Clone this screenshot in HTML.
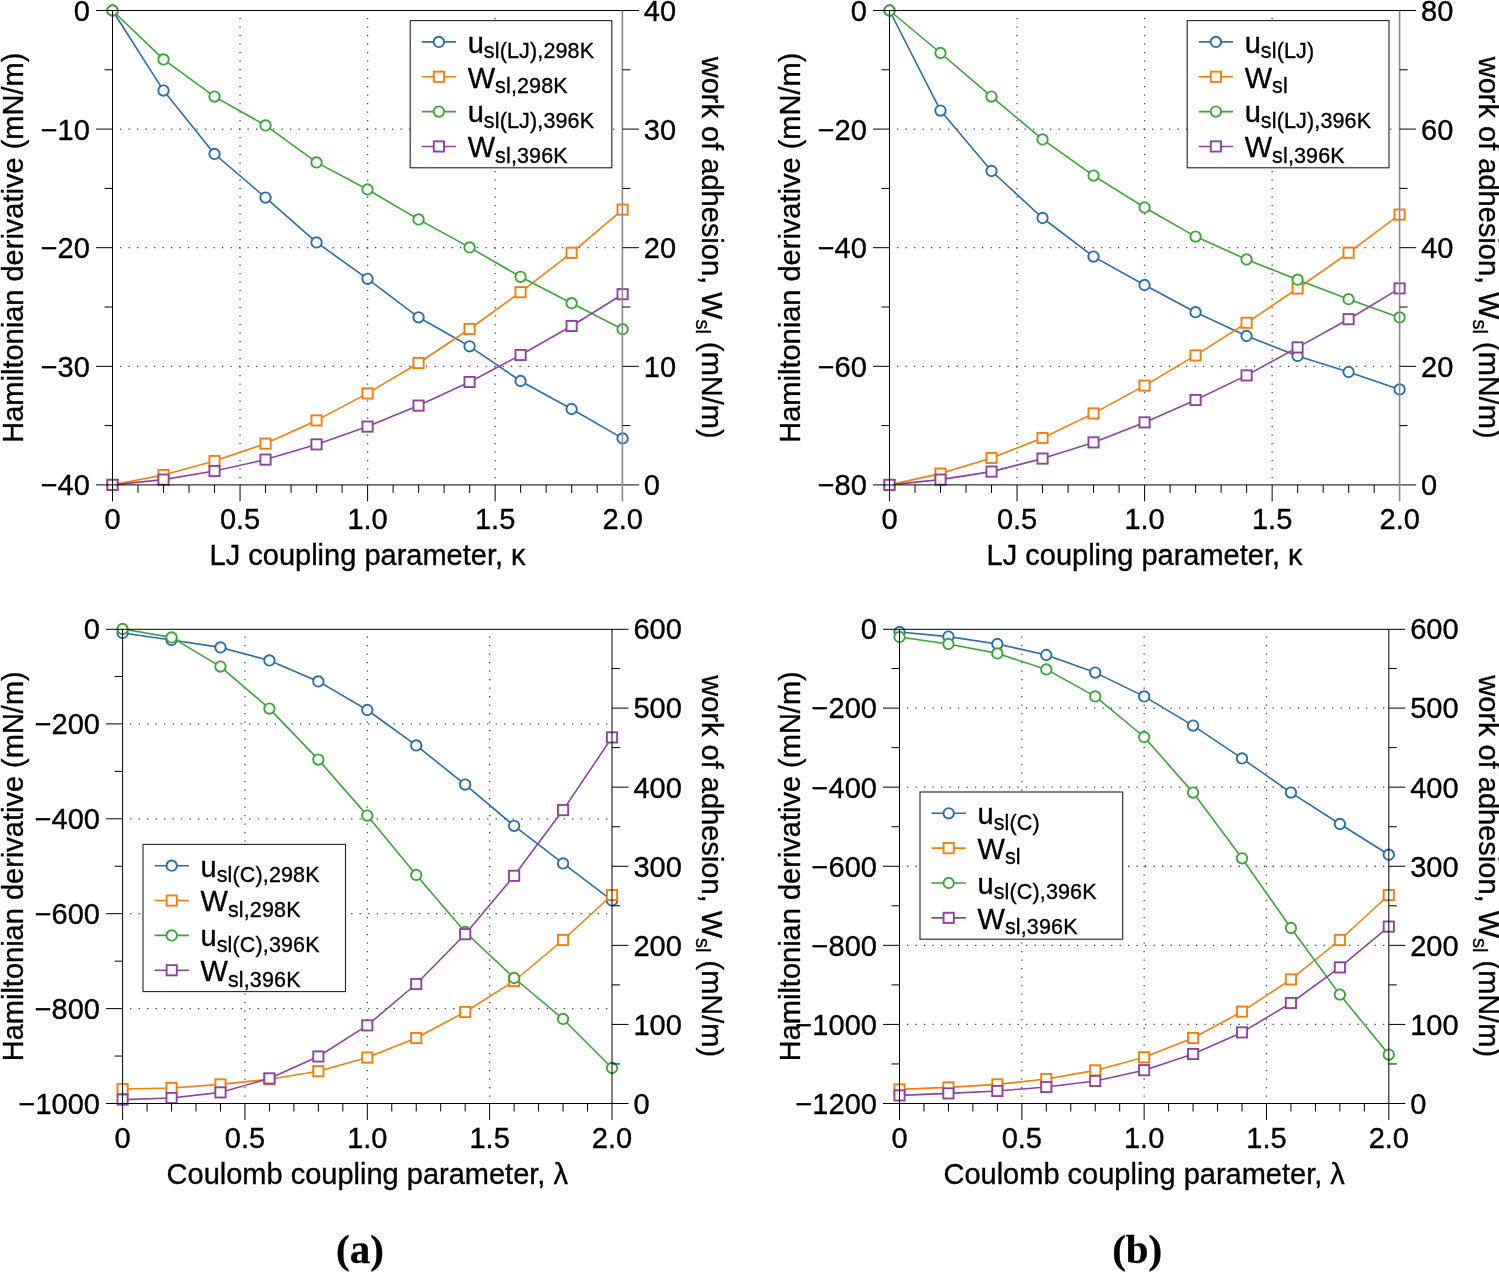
<!DOCTYPE html>
<html><head><meta charset="utf-8"><title>Hamiltonian derivative and work of adhesion</title>
<style>
html,body{margin:0;padding:0;background:#fff;}
body{width:1499px;height:1272px;overflow:hidden;}
svg{display:block;font-family:"Liberation Sans", sans-serif;will-change:transform;}
text{stroke:#000;stroke-width:0.35px;}
</style></head><body>
<svg width="1499" height="1272" viewBox="0 0 1499 1272" fill="#000">
<g stroke="#444" stroke-width="1.3" stroke-dasharray="1.3 7.2">
<line x1="240.05" y1="18" x2="240.05" y2="481.9"/>
<line x1="367.6" y1="18" x2="367.6" y2="481.9"/>
<line x1="495.15" y1="18" x2="495.15" y2="481.9"/>
<line x1="120" y1="129.1" x2="619.7" y2="129.1"/>
<line x1="120" y1="247.7" x2="619.7" y2="247.7"/>
<line x1="120" y1="366.3" x2="619.7" y2="366.3"/>
<line x1="1017.05" y1="18" x2="1017.05" y2="481.9"/>
<line x1="1144.6" y1="18" x2="1144.6" y2="481.9"/>
<line x1="1272.15" y1="18" x2="1272.15" y2="481.9"/>
<line x1="897" y1="129.1" x2="1396.7" y2="129.1"/>
<line x1="897" y1="247.7" x2="1396.7" y2="247.7"/>
<line x1="897" y1="366.3" x2="1396.7" y2="366.3"/>
<line x1="244.95" y1="636.5" x2="244.95" y2="1100.5"/>
<line x1="367.3" y1="636.5" x2="367.3" y2="1100.5"/>
<line x1="489.65" y1="636.5" x2="489.65" y2="1100.5"/>
<line x1="130.1" y1="723.9" x2="609" y2="723.9"/>
<line x1="130.1" y1="818.8" x2="609" y2="818.8"/>
<line x1="130.1" y1="913.7" x2="609" y2="913.7"/>
<line x1="130.1" y1="1008.6" x2="609" y2="1008.6"/>
<line x1="1021.83" y1="636.5" x2="1021.83" y2="1100.5"/>
<line x1="1144.15" y1="636.5" x2="1144.15" y2="1100.5"/>
<line x1="1266.47" y1="636.5" x2="1266.47" y2="1100.5"/>
<line x1="907" y1="708.08" x2="1385.8" y2="708.08"/>
<line x1="907" y1="787.17" x2="1385.8" y2="787.17"/>
<line x1="907" y1="866.25" x2="1385.8" y2="866.25"/>
<line x1="907" y1="945.33" x2="1385.8" y2="945.33"/>
<line x1="907" y1="1024.42" x2="1385.8" y2="1024.42"/>
</g>
<g>
<polyline points="112.5,10.5 163.51,90.6 214.52,154 265.53,197.6 316.54,242.4 367.55,278.8 418.56,317.3 469.57,346.3 520.58,381 571.59,409 622.6,438.4" fill="none" stroke="#2b6cab" stroke-width="1.6" stroke-linejoin="round"/>
<circle cx="112.5" cy="10.5" r="5.2" fill="#fff" stroke="#2b6cab" stroke-width="1.9"/>
<circle cx="163.51" cy="90.6" r="5.2" fill="#fff" stroke="#2b6cab" stroke-width="1.9"/>
<circle cx="214.52" cy="154" r="5.2" fill="#fff" stroke="#2b6cab" stroke-width="1.9"/>
<circle cx="265.53" cy="197.6" r="5.2" fill="#fff" stroke="#2b6cab" stroke-width="1.9"/>
<circle cx="316.54" cy="242.4" r="5.2" fill="#fff" stroke="#2b6cab" stroke-width="1.9"/>
<circle cx="367.55" cy="278.8" r="5.2" fill="#fff" stroke="#2b6cab" stroke-width="1.9"/>
<circle cx="418.56" cy="317.3" r="5.2" fill="#fff" stroke="#2b6cab" stroke-width="1.9"/>
<circle cx="469.57" cy="346.3" r="5.2" fill="#fff" stroke="#2b6cab" stroke-width="1.9"/>
<circle cx="520.58" cy="381" r="5.2" fill="#fff" stroke="#2b6cab" stroke-width="1.9"/>
<circle cx="571.59" cy="409" r="5.2" fill="#fff" stroke="#2b6cab" stroke-width="1.9"/>
<circle cx="622.6" cy="438.4" r="5.2" fill="#fff" stroke="#2b6cab" stroke-width="1.9"/>
<polyline points="112.5,484.9 163.51,475 214.52,461 265.53,443.6 316.54,420.4 367.55,393.4 418.56,363 469.57,329 520.58,292.2 571.59,252.8 622.6,209.6" fill="none" stroke="#f77d0b" stroke-width="1.6" stroke-linejoin="round"/>
<rect x="107.4" y="479.8" width="10.2" height="10.2" fill="#fff" stroke="#f77d0b" stroke-width="1.9"/>
<rect x="158.41" y="469.9" width="10.2" height="10.2" fill="#fff" stroke="#f77d0b" stroke-width="1.9"/>
<rect x="209.42" y="455.9" width="10.2" height="10.2" fill="#fff" stroke="#f77d0b" stroke-width="1.9"/>
<rect x="260.43" y="438.5" width="10.2" height="10.2" fill="#fff" stroke="#f77d0b" stroke-width="1.9"/>
<rect x="311.44" y="415.3" width="10.2" height="10.2" fill="#fff" stroke="#f77d0b" stroke-width="1.9"/>
<rect x="362.45" y="388.3" width="10.2" height="10.2" fill="#fff" stroke="#f77d0b" stroke-width="1.9"/>
<rect x="413.46" y="357.9" width="10.2" height="10.2" fill="#fff" stroke="#f77d0b" stroke-width="1.9"/>
<rect x="464.47" y="323.9" width="10.2" height="10.2" fill="#fff" stroke="#f77d0b" stroke-width="1.9"/>
<rect x="515.48" y="287.1" width="10.2" height="10.2" fill="#fff" stroke="#f77d0b" stroke-width="1.9"/>
<rect x="566.49" y="247.7" width="10.2" height="10.2" fill="#fff" stroke="#f77d0b" stroke-width="1.9"/>
<rect x="617.5" y="204.5" width="10.2" height="10.2" fill="#fff" stroke="#f77d0b" stroke-width="1.9"/>
<polyline points="112.5,10.5 163.51,59.4 214.52,96.6 265.53,125.4 316.54,162.4 367.55,189.5 418.56,219.4 469.57,247.4 520.58,276.8 571.59,303.2 622.6,329.2" fill="none" stroke="#3ea33a" stroke-width="1.6" stroke-linejoin="round"/>
<circle cx="112.5" cy="10.5" r="5.2" fill="#fff" stroke="#3ea33a" stroke-width="1.9"/>
<circle cx="163.51" cy="59.4" r="5.2" fill="#fff" stroke="#3ea33a" stroke-width="1.9"/>
<circle cx="214.52" cy="96.6" r="5.2" fill="#fff" stroke="#3ea33a" stroke-width="1.9"/>
<circle cx="265.53" cy="125.4" r="5.2" fill="#fff" stroke="#3ea33a" stroke-width="1.9"/>
<circle cx="316.54" cy="162.4" r="5.2" fill="#fff" stroke="#3ea33a" stroke-width="1.9"/>
<circle cx="367.55" cy="189.5" r="5.2" fill="#fff" stroke="#3ea33a" stroke-width="1.9"/>
<circle cx="418.56" cy="219.4" r="5.2" fill="#fff" stroke="#3ea33a" stroke-width="1.9"/>
<circle cx="469.57" cy="247.4" r="5.2" fill="#fff" stroke="#3ea33a" stroke-width="1.9"/>
<circle cx="520.58" cy="276.8" r="5.2" fill="#fff" stroke="#3ea33a" stroke-width="1.9"/>
<circle cx="571.59" cy="303.2" r="5.2" fill="#fff" stroke="#3ea33a" stroke-width="1.9"/>
<circle cx="622.6" cy="329.2" r="5.2" fill="#fff" stroke="#3ea33a" stroke-width="1.9"/>
<polyline points="112.5,484.9 163.51,479.6 214.52,471 265.53,459.6 316.54,444.4 367.55,426.6 418.56,405.6 469.57,382 520.58,355 571.59,326 622.6,294.2" fill="none" stroke="#8c449e" stroke-width="1.6" stroke-linejoin="round"/>
<rect x="107.4" y="479.8" width="10.2" height="10.2" fill="#fff" stroke="#8c449e" stroke-width="1.9"/>
<rect x="158.41" y="474.5" width="10.2" height="10.2" fill="#fff" stroke="#8c449e" stroke-width="1.9"/>
<rect x="209.42" y="465.9" width="10.2" height="10.2" fill="#fff" stroke="#8c449e" stroke-width="1.9"/>
<rect x="260.43" y="454.5" width="10.2" height="10.2" fill="#fff" stroke="#8c449e" stroke-width="1.9"/>
<rect x="311.44" y="439.3" width="10.2" height="10.2" fill="#fff" stroke="#8c449e" stroke-width="1.9"/>
<rect x="362.45" y="421.5" width="10.2" height="10.2" fill="#fff" stroke="#8c449e" stroke-width="1.9"/>
<rect x="413.46" y="400.5" width="10.2" height="10.2" fill="#fff" stroke="#8c449e" stroke-width="1.9"/>
<rect x="464.47" y="376.9" width="10.2" height="10.2" fill="#fff" stroke="#8c449e" stroke-width="1.9"/>
<rect x="515.48" y="349.9" width="10.2" height="10.2" fill="#fff" stroke="#8c449e" stroke-width="1.9"/>
<rect x="566.49" y="320.9" width="10.2" height="10.2" fill="#fff" stroke="#8c449e" stroke-width="1.9"/>
<rect x="617.5" y="289.1" width="10.2" height="10.2" fill="#fff" stroke="#8c449e" stroke-width="1.9"/>
<polyline points="889.5,10.5 940.51,110.6 991.52,171 1042.53,218 1093.54,256.6 1144.55,285 1195.56,312.2 1246.57,336 1297.58,356 1348.59,372 1399.6,389.4" fill="none" stroke="#2b6cab" stroke-width="1.6" stroke-linejoin="round"/>
<circle cx="889.5" cy="10.5" r="5.2" fill="#fff" stroke="#2b6cab" stroke-width="1.9"/>
<circle cx="940.51" cy="110.6" r="5.2" fill="#fff" stroke="#2b6cab" stroke-width="1.9"/>
<circle cx="991.52" cy="171" r="5.2" fill="#fff" stroke="#2b6cab" stroke-width="1.9"/>
<circle cx="1042.53" cy="218" r="5.2" fill="#fff" stroke="#2b6cab" stroke-width="1.9"/>
<circle cx="1093.54" cy="256.6" r="5.2" fill="#fff" stroke="#2b6cab" stroke-width="1.9"/>
<circle cx="1144.55" cy="285" r="5.2" fill="#fff" stroke="#2b6cab" stroke-width="1.9"/>
<circle cx="1195.56" cy="312.2" r="5.2" fill="#fff" stroke="#2b6cab" stroke-width="1.9"/>
<circle cx="1246.57" cy="336" r="5.2" fill="#fff" stroke="#2b6cab" stroke-width="1.9"/>
<circle cx="1297.58" cy="356" r="5.2" fill="#fff" stroke="#2b6cab" stroke-width="1.9"/>
<circle cx="1348.59" cy="372" r="5.2" fill="#fff" stroke="#2b6cab" stroke-width="1.9"/>
<circle cx="1399.6" cy="389.4" r="5.2" fill="#fff" stroke="#2b6cab" stroke-width="1.9"/>
<polyline points="889.5,484.9 940.51,473.6 991.52,458 1042.53,438 1093.54,413.4 1144.55,385.6 1195.56,355.4 1246.57,322.8 1297.58,288.5 1348.59,252.7 1399.6,214.6" fill="none" stroke="#f77d0b" stroke-width="1.6" stroke-linejoin="round"/>
<rect x="884.4" y="479.8" width="10.2" height="10.2" fill="#fff" stroke="#f77d0b" stroke-width="1.9"/>
<rect x="935.41" y="468.5" width="10.2" height="10.2" fill="#fff" stroke="#f77d0b" stroke-width="1.9"/>
<rect x="986.42" y="452.9" width="10.2" height="10.2" fill="#fff" stroke="#f77d0b" stroke-width="1.9"/>
<rect x="1037.43" y="432.9" width="10.2" height="10.2" fill="#fff" stroke="#f77d0b" stroke-width="1.9"/>
<rect x="1088.44" y="408.3" width="10.2" height="10.2" fill="#fff" stroke="#f77d0b" stroke-width="1.9"/>
<rect x="1139.45" y="380.5" width="10.2" height="10.2" fill="#fff" stroke="#f77d0b" stroke-width="1.9"/>
<rect x="1190.46" y="350.3" width="10.2" height="10.2" fill="#fff" stroke="#f77d0b" stroke-width="1.9"/>
<rect x="1241.47" y="317.7" width="10.2" height="10.2" fill="#fff" stroke="#f77d0b" stroke-width="1.9"/>
<rect x="1292.48" y="283.4" width="10.2" height="10.2" fill="#fff" stroke="#f77d0b" stroke-width="1.9"/>
<rect x="1343.49" y="247.6" width="10.2" height="10.2" fill="#fff" stroke="#f77d0b" stroke-width="1.9"/>
<rect x="1394.5" y="209.5" width="10.2" height="10.2" fill="#fff" stroke="#f77d0b" stroke-width="1.9"/>
<polyline points="889.5,10.5 940.51,53 991.52,96.6 1042.53,139.4 1093.54,175.6 1144.55,207.5 1195.56,236.6 1246.57,259.4 1297.58,279.7 1348.59,299.2 1399.6,317.4" fill="none" stroke="#3ea33a" stroke-width="1.6" stroke-linejoin="round"/>
<circle cx="889.5" cy="10.5" r="5.2" fill="#fff" stroke="#3ea33a" stroke-width="1.9"/>
<circle cx="940.51" cy="53" r="5.2" fill="#fff" stroke="#3ea33a" stroke-width="1.9"/>
<circle cx="991.52" cy="96.6" r="5.2" fill="#fff" stroke="#3ea33a" stroke-width="1.9"/>
<circle cx="1042.53" cy="139.4" r="5.2" fill="#fff" stroke="#3ea33a" stroke-width="1.9"/>
<circle cx="1093.54" cy="175.6" r="5.2" fill="#fff" stroke="#3ea33a" stroke-width="1.9"/>
<circle cx="1144.55" cy="207.5" r="5.2" fill="#fff" stroke="#3ea33a" stroke-width="1.9"/>
<circle cx="1195.56" cy="236.6" r="5.2" fill="#fff" stroke="#3ea33a" stroke-width="1.9"/>
<circle cx="1246.57" cy="259.4" r="5.2" fill="#fff" stroke="#3ea33a" stroke-width="1.9"/>
<circle cx="1297.58" cy="279.7" r="5.2" fill="#fff" stroke="#3ea33a" stroke-width="1.9"/>
<circle cx="1348.59" cy="299.2" r="5.2" fill="#fff" stroke="#3ea33a" stroke-width="1.9"/>
<circle cx="1399.6" cy="317.4" r="5.2" fill="#fff" stroke="#3ea33a" stroke-width="1.9"/>
<polyline points="889.5,484.9 940.51,479.6 991.52,471.6 1042.53,458.6 1093.54,442.4 1144.55,422.4 1195.56,400 1246.57,375.4 1297.58,347.4 1348.59,319.2 1399.6,288.4" fill="none" stroke="#8c449e" stroke-width="1.6" stroke-linejoin="round"/>
<rect x="884.4" y="479.8" width="10.2" height="10.2" fill="#fff" stroke="#8c449e" stroke-width="1.9"/>
<rect x="935.41" y="474.5" width="10.2" height="10.2" fill="#fff" stroke="#8c449e" stroke-width="1.9"/>
<rect x="986.42" y="466.5" width="10.2" height="10.2" fill="#fff" stroke="#8c449e" stroke-width="1.9"/>
<rect x="1037.43" y="453.5" width="10.2" height="10.2" fill="#fff" stroke="#8c449e" stroke-width="1.9"/>
<rect x="1088.44" y="437.3" width="10.2" height="10.2" fill="#fff" stroke="#8c449e" stroke-width="1.9"/>
<rect x="1139.45" y="417.3" width="10.2" height="10.2" fill="#fff" stroke="#8c449e" stroke-width="1.9"/>
<rect x="1190.46" y="394.9" width="10.2" height="10.2" fill="#fff" stroke="#8c449e" stroke-width="1.9"/>
<rect x="1241.47" y="370.3" width="10.2" height="10.2" fill="#fff" stroke="#8c449e" stroke-width="1.9"/>
<rect x="1292.48" y="342.3" width="10.2" height="10.2" fill="#fff" stroke="#8c449e" stroke-width="1.9"/>
<rect x="1343.49" y="314.1" width="10.2" height="10.2" fill="#fff" stroke="#8c449e" stroke-width="1.9"/>
<rect x="1394.5" y="283.3" width="10.2" height="10.2" fill="#fff" stroke="#8c449e" stroke-width="1.9"/>
<polyline points="122.6,633 171.54,640 220.48,647.4 269.42,660.4 318.36,681.4 367.3,710 416.24,745.4 465.18,784.6 514.12,825.8 563.06,863.4 612,900.4" fill="none" stroke="#2b6cab" stroke-width="1.6" stroke-linejoin="round"/>
<circle cx="122.6" cy="633" r="5.2" fill="#fff" stroke="#2b6cab" stroke-width="1.9"/>
<circle cx="171.54" cy="640" r="5.2" fill="#fff" stroke="#2b6cab" stroke-width="1.9"/>
<circle cx="220.48" cy="647.4" r="5.2" fill="#fff" stroke="#2b6cab" stroke-width="1.9"/>
<circle cx="269.42" cy="660.4" r="5.2" fill="#fff" stroke="#2b6cab" stroke-width="1.9"/>
<circle cx="318.36" cy="681.4" r="5.2" fill="#fff" stroke="#2b6cab" stroke-width="1.9"/>
<circle cx="367.3" cy="710" r="5.2" fill="#fff" stroke="#2b6cab" stroke-width="1.9"/>
<circle cx="416.24" cy="745.4" r="5.2" fill="#fff" stroke="#2b6cab" stroke-width="1.9"/>
<circle cx="465.18" cy="784.6" r="5.2" fill="#fff" stroke="#2b6cab" stroke-width="1.9"/>
<circle cx="514.12" cy="825.8" r="5.2" fill="#fff" stroke="#2b6cab" stroke-width="1.9"/>
<circle cx="563.06" cy="863.4" r="5.2" fill="#fff" stroke="#2b6cab" stroke-width="1.9"/>
<circle cx="612" cy="900.4" r="5.2" fill="#fff" stroke="#2b6cab" stroke-width="1.9"/>
<polyline points="122.6,1089 171.54,1088 220.48,1084.4 269.42,1079.2 318.36,1071.2 367.3,1057.5 416.24,1038 465.18,1012 514.12,981 563.06,940 612,895" fill="none" stroke="#f77d0b" stroke-width="1.6" stroke-linejoin="round"/>
<rect x="117.5" y="1083.9" width="10.2" height="10.2" fill="#fff" stroke="#f77d0b" stroke-width="1.9"/>
<rect x="166.44" y="1082.9" width="10.2" height="10.2" fill="#fff" stroke="#f77d0b" stroke-width="1.9"/>
<rect x="215.38" y="1079.3" width="10.2" height="10.2" fill="#fff" stroke="#f77d0b" stroke-width="1.9"/>
<rect x="264.32" y="1074.1" width="10.2" height="10.2" fill="#fff" stroke="#f77d0b" stroke-width="1.9"/>
<rect x="313.26" y="1066.1" width="10.2" height="10.2" fill="#fff" stroke="#f77d0b" stroke-width="1.9"/>
<rect x="362.2" y="1052.4" width="10.2" height="10.2" fill="#fff" stroke="#f77d0b" stroke-width="1.9"/>
<rect x="411.14" y="1032.9" width="10.2" height="10.2" fill="#fff" stroke="#f77d0b" stroke-width="1.9"/>
<rect x="460.08" y="1006.9" width="10.2" height="10.2" fill="#fff" stroke="#f77d0b" stroke-width="1.9"/>
<rect x="509.02" y="975.9" width="10.2" height="10.2" fill="#fff" stroke="#f77d0b" stroke-width="1.9"/>
<rect x="557.96" y="934.9" width="10.2" height="10.2" fill="#fff" stroke="#f77d0b" stroke-width="1.9"/>
<rect x="606.9" y="889.9" width="10.2" height="10.2" fill="#fff" stroke="#f77d0b" stroke-width="1.9"/>
<polyline points="122.6,629 171.54,637.4 220.48,666.6 269.42,708.6 318.36,759.6 367.3,815.6 416.24,875 465.18,932 514.12,978 563.06,1019 612,1068" fill="none" stroke="#3ea33a" stroke-width="1.6" stroke-linejoin="round"/>
<circle cx="122.6" cy="629" r="5.2" fill="#fff" stroke="#3ea33a" stroke-width="1.9"/>
<circle cx="171.54" cy="637.4" r="5.2" fill="#fff" stroke="#3ea33a" stroke-width="1.9"/>
<circle cx="220.48" cy="666.6" r="5.2" fill="#fff" stroke="#3ea33a" stroke-width="1.9"/>
<circle cx="269.42" cy="708.6" r="5.2" fill="#fff" stroke="#3ea33a" stroke-width="1.9"/>
<circle cx="318.36" cy="759.6" r="5.2" fill="#fff" stroke="#3ea33a" stroke-width="1.9"/>
<circle cx="367.3" cy="815.6" r="5.2" fill="#fff" stroke="#3ea33a" stroke-width="1.9"/>
<circle cx="416.24" cy="875" r="5.2" fill="#fff" stroke="#3ea33a" stroke-width="1.9"/>
<circle cx="465.18" cy="932" r="5.2" fill="#fff" stroke="#3ea33a" stroke-width="1.9"/>
<circle cx="514.12" cy="978" r="5.2" fill="#fff" stroke="#3ea33a" stroke-width="1.9"/>
<circle cx="563.06" cy="1019" r="5.2" fill="#fff" stroke="#3ea33a" stroke-width="1.9"/>
<circle cx="612" cy="1068" r="5.2" fill="#fff" stroke="#3ea33a" stroke-width="1.9"/>
<polyline points="122.6,1099.6 171.54,1098 220.48,1092.4 269.42,1078.4 318.36,1056.5 367.3,1025.4 416.24,984 465.18,934.2 514.12,875.8 563.06,810.1 612,737.4" fill="none" stroke="#8c449e" stroke-width="1.6" stroke-linejoin="round"/>
<rect x="117.5" y="1094.5" width="10.2" height="10.2" fill="#fff" stroke="#8c449e" stroke-width="1.9"/>
<rect x="166.44" y="1092.9" width="10.2" height="10.2" fill="#fff" stroke="#8c449e" stroke-width="1.9"/>
<rect x="215.38" y="1087.3" width="10.2" height="10.2" fill="#fff" stroke="#8c449e" stroke-width="1.9"/>
<rect x="264.32" y="1073.3" width="10.2" height="10.2" fill="#fff" stroke="#8c449e" stroke-width="1.9"/>
<rect x="313.26" y="1051.4" width="10.2" height="10.2" fill="#fff" stroke="#8c449e" stroke-width="1.9"/>
<rect x="362.2" y="1020.3" width="10.2" height="10.2" fill="#fff" stroke="#8c449e" stroke-width="1.9"/>
<rect x="411.14" y="978.9" width="10.2" height="10.2" fill="#fff" stroke="#8c449e" stroke-width="1.9"/>
<rect x="460.08" y="929.1" width="10.2" height="10.2" fill="#fff" stroke="#8c449e" stroke-width="1.9"/>
<rect x="509.02" y="870.7" width="10.2" height="10.2" fill="#fff" stroke="#8c449e" stroke-width="1.9"/>
<rect x="557.96" y="805" width="10.2" height="10.2" fill="#fff" stroke="#8c449e" stroke-width="1.9"/>
<rect x="606.9" y="732.3" width="10.2" height="10.2" fill="#fff" stroke="#8c449e" stroke-width="1.9"/>
<polyline points="899.5,632 948.43,636.6 997.36,644 1046.29,655 1095.22,672.6 1144.15,696.4 1193.08,725.6 1242.01,758.4 1290.94,792.6 1339.87,824 1388.8,854.7" fill="none" stroke="#2b6cab" stroke-width="1.6" stroke-linejoin="round"/>
<circle cx="899.5" cy="632" r="5.2" fill="#fff" stroke="#2b6cab" stroke-width="1.9"/>
<circle cx="948.43" cy="636.6" r="5.2" fill="#fff" stroke="#2b6cab" stroke-width="1.9"/>
<circle cx="997.36" cy="644" r="5.2" fill="#fff" stroke="#2b6cab" stroke-width="1.9"/>
<circle cx="1046.29" cy="655" r="5.2" fill="#fff" stroke="#2b6cab" stroke-width="1.9"/>
<circle cx="1095.22" cy="672.6" r="5.2" fill="#fff" stroke="#2b6cab" stroke-width="1.9"/>
<circle cx="1144.15" cy="696.4" r="5.2" fill="#fff" stroke="#2b6cab" stroke-width="1.9"/>
<circle cx="1193.08" cy="725.6" r="5.2" fill="#fff" stroke="#2b6cab" stroke-width="1.9"/>
<circle cx="1242.01" cy="758.4" r="5.2" fill="#fff" stroke="#2b6cab" stroke-width="1.9"/>
<circle cx="1290.94" cy="792.6" r="5.2" fill="#fff" stroke="#2b6cab" stroke-width="1.9"/>
<circle cx="1339.87" cy="824" r="5.2" fill="#fff" stroke="#2b6cab" stroke-width="1.9"/>
<circle cx="1388.8" cy="854.7" r="5.2" fill="#fff" stroke="#2b6cab" stroke-width="1.9"/>
<polyline points="899.5,1089.4 948.43,1087.4 997.36,1084.4 1046.29,1079 1095.22,1070.4 1144.15,1057.3 1193.08,1038 1242.01,1011.6 1290.94,979.4 1339.87,940 1388.8,895" fill="none" stroke="#f77d0b" stroke-width="1.6" stroke-linejoin="round"/>
<rect x="894.4" y="1084.3" width="10.2" height="10.2" fill="#fff" stroke="#f77d0b" stroke-width="1.9"/>
<rect x="943.33" y="1082.3" width="10.2" height="10.2" fill="#fff" stroke="#f77d0b" stroke-width="1.9"/>
<rect x="992.26" y="1079.3" width="10.2" height="10.2" fill="#fff" stroke="#f77d0b" stroke-width="1.9"/>
<rect x="1041.19" y="1073.9" width="10.2" height="10.2" fill="#fff" stroke="#f77d0b" stroke-width="1.9"/>
<rect x="1090.12" y="1065.3" width="10.2" height="10.2" fill="#fff" stroke="#f77d0b" stroke-width="1.9"/>
<rect x="1139.05" y="1052.2" width="10.2" height="10.2" fill="#fff" stroke="#f77d0b" stroke-width="1.9"/>
<rect x="1187.98" y="1032.9" width="10.2" height="10.2" fill="#fff" stroke="#f77d0b" stroke-width="1.9"/>
<rect x="1236.91" y="1006.5" width="10.2" height="10.2" fill="#fff" stroke="#f77d0b" stroke-width="1.9"/>
<rect x="1285.84" y="974.3" width="10.2" height="10.2" fill="#fff" stroke="#f77d0b" stroke-width="1.9"/>
<rect x="1334.77" y="934.9" width="10.2" height="10.2" fill="#fff" stroke="#f77d0b" stroke-width="1.9"/>
<rect x="1383.7" y="889.9" width="10.2" height="10.2" fill="#fff" stroke="#f77d0b" stroke-width="1.9"/>
<polyline points="899.5,637 948.43,644 997.36,653.4 1046.29,669.4 1095.22,696.4 1144.15,737 1193.08,792.6 1242.01,858.3 1290.94,928 1339.87,994.6 1388.8,1054.6" fill="none" stroke="#3ea33a" stroke-width="1.6" stroke-linejoin="round"/>
<circle cx="899.5" cy="637" r="5.2" fill="#fff" stroke="#3ea33a" stroke-width="1.9"/>
<circle cx="948.43" cy="644" r="5.2" fill="#fff" stroke="#3ea33a" stroke-width="1.9"/>
<circle cx="997.36" cy="653.4" r="5.2" fill="#fff" stroke="#3ea33a" stroke-width="1.9"/>
<circle cx="1046.29" cy="669.4" r="5.2" fill="#fff" stroke="#3ea33a" stroke-width="1.9"/>
<circle cx="1095.22" cy="696.4" r="5.2" fill="#fff" stroke="#3ea33a" stroke-width="1.9"/>
<circle cx="1144.15" cy="737" r="5.2" fill="#fff" stroke="#3ea33a" stroke-width="1.9"/>
<circle cx="1193.08" cy="792.6" r="5.2" fill="#fff" stroke="#3ea33a" stroke-width="1.9"/>
<circle cx="1242.01" cy="858.3" r="5.2" fill="#fff" stroke="#3ea33a" stroke-width="1.9"/>
<circle cx="1290.94" cy="928" r="5.2" fill="#fff" stroke="#3ea33a" stroke-width="1.9"/>
<circle cx="1339.87" cy="994.6" r="5.2" fill="#fff" stroke="#3ea33a" stroke-width="1.9"/>
<circle cx="1388.8" cy="1054.6" r="5.2" fill="#fff" stroke="#3ea33a" stroke-width="1.9"/>
<polyline points="899.5,1095.4 948.43,1093.4 997.36,1091 1046.29,1087 1095.22,1081 1144.15,1070.2 1193.08,1054 1242.01,1032.4 1290.94,1003 1339.87,967.4 1388.8,926.6" fill="none" stroke="#8c449e" stroke-width="1.6" stroke-linejoin="round"/>
<rect x="894.4" y="1090.3" width="10.2" height="10.2" fill="#fff" stroke="#8c449e" stroke-width="1.9"/>
<rect x="943.33" y="1088.3" width="10.2" height="10.2" fill="#fff" stroke="#8c449e" stroke-width="1.9"/>
<rect x="992.26" y="1085.9" width="10.2" height="10.2" fill="#fff" stroke="#8c449e" stroke-width="1.9"/>
<rect x="1041.19" y="1081.9" width="10.2" height="10.2" fill="#fff" stroke="#8c449e" stroke-width="1.9"/>
<rect x="1090.12" y="1075.9" width="10.2" height="10.2" fill="#fff" stroke="#8c449e" stroke-width="1.9"/>
<rect x="1139.05" y="1065.1" width="10.2" height="10.2" fill="#fff" stroke="#8c449e" stroke-width="1.9"/>
<rect x="1187.98" y="1048.9" width="10.2" height="10.2" fill="#fff" stroke="#8c449e" stroke-width="1.9"/>
<rect x="1236.91" y="1027.3" width="10.2" height="10.2" fill="#fff" stroke="#8c449e" stroke-width="1.9"/>
<rect x="1285.84" y="997.9" width="10.2" height="10.2" fill="#fff" stroke="#8c449e" stroke-width="1.9"/>
<rect x="1334.77" y="962.3" width="10.2" height="10.2" fill="#fff" stroke="#8c449e" stroke-width="1.9"/>
<rect x="1383.7" y="921.5" width="10.2" height="10.2" fill="#fff" stroke="#8c449e" stroke-width="1.9"/>
</g>
<g>
<line x1="96" y1="10.5" x2="639.2" y2="10.5" stroke="#000" stroke-width="1"/>
<line x1="96" y1="484.9" x2="639.2" y2="484.9" stroke="#000" stroke-width="1"/>
<line x1="112.5" y1="10.5" x2="112.5" y2="501.4" stroke="#000" stroke-width="1"/>
<line x1="622.4" y1="10.5" x2="622.4" y2="501.4" stroke="#8a8a8a" stroke-width="1.6"/>
<line x1="138.01" y1="484.9" x2="138.01" y2="492.9" stroke="#000" stroke-width="1"/>
<line x1="163.52" y1="484.9" x2="163.52" y2="492.9" stroke="#000" stroke-width="1"/>
<line x1="189.03" y1="484.9" x2="189.03" y2="492.9" stroke="#000" stroke-width="1"/>
<line x1="214.54" y1="484.9" x2="214.54" y2="492.9" stroke="#000" stroke-width="1"/>
<line x1="240.05" y1="484.9" x2="240.05" y2="501.4" stroke="#000" stroke-width="1"/>
<line x1="265.56" y1="484.9" x2="265.56" y2="492.9" stroke="#000" stroke-width="1"/>
<line x1="291.07" y1="484.9" x2="291.07" y2="492.9" stroke="#000" stroke-width="1"/>
<line x1="316.58" y1="484.9" x2="316.58" y2="492.9" stroke="#000" stroke-width="1"/>
<line x1="342.09" y1="484.9" x2="342.09" y2="492.9" stroke="#000" stroke-width="1"/>
<line x1="367.6" y1="484.9" x2="367.6" y2="501.4" stroke="#000" stroke-width="1"/>
<line x1="393.11" y1="484.9" x2="393.11" y2="492.9" stroke="#000" stroke-width="1"/>
<line x1="418.62" y1="484.9" x2="418.62" y2="492.9" stroke="#000" stroke-width="1"/>
<line x1="444.13" y1="484.9" x2="444.13" y2="492.9" stroke="#000" stroke-width="1"/>
<line x1="469.64" y1="484.9" x2="469.64" y2="492.9" stroke="#000" stroke-width="1"/>
<line x1="495.15" y1="484.9" x2="495.15" y2="501.4" stroke="#000" stroke-width="1"/>
<line x1="520.66" y1="484.9" x2="520.66" y2="492.9" stroke="#000" stroke-width="1"/>
<line x1="546.17" y1="484.9" x2="546.17" y2="492.9" stroke="#000" stroke-width="1"/>
<line x1="571.68" y1="484.9" x2="571.68" y2="492.9" stroke="#000" stroke-width="1"/>
<line x1="597.19" y1="484.9" x2="597.19" y2="492.9" stroke="#000" stroke-width="1"/>
<line x1="104.5" y1="69.8" x2="112.5" y2="69.8" stroke="#000" stroke-width="1"/>
<line x1="96" y1="129.1" x2="112.5" y2="129.1" stroke="#000" stroke-width="1"/>
<line x1="104.5" y1="188.4" x2="112.5" y2="188.4" stroke="#000" stroke-width="1"/>
<line x1="96" y1="247.7" x2="112.5" y2="247.7" stroke="#000" stroke-width="1"/>
<line x1="104.5" y1="307" x2="112.5" y2="307" stroke="#000" stroke-width="1"/>
<line x1="96" y1="366.3" x2="112.5" y2="366.3" stroke="#000" stroke-width="1"/>
<line x1="104.5" y1="425.6" x2="112.5" y2="425.6" stroke="#000" stroke-width="1"/>
<line x1="622.4" y1="69.8" x2="630.4" y2="69.8" stroke="#000" stroke-width="1"/>
<line x1="622.4" y1="129.1" x2="638.9" y2="129.1" stroke="#000" stroke-width="1"/>
<line x1="622.4" y1="188.4" x2="630.4" y2="188.4" stroke="#000" stroke-width="1"/>
<line x1="622.4" y1="247.7" x2="638.9" y2="247.7" stroke="#000" stroke-width="1"/>
<line x1="622.4" y1="307" x2="630.4" y2="307" stroke="#000" stroke-width="1"/>
<line x1="622.4" y1="366.3" x2="638.9" y2="366.3" stroke="#000" stroke-width="1"/>
<line x1="622.4" y1="425.6" x2="630.4" y2="425.6" stroke="#000" stroke-width="1"/>
<line x1="873" y1="10.5" x2="1416.2" y2="10.5" stroke="#000" stroke-width="1"/>
<line x1="873" y1="484.9" x2="1416.2" y2="484.9" stroke="#000" stroke-width="1"/>
<line x1="889.5" y1="10.5" x2="889.5" y2="501.4" stroke="#000" stroke-width="1"/>
<line x1="1399.6" y1="10.5" x2="1399.6" y2="501.4" stroke="#8a8a8a" stroke-width="1.6"/>
<line x1="915.01" y1="484.9" x2="915.01" y2="492.9" stroke="#000" stroke-width="1"/>
<line x1="940.52" y1="484.9" x2="940.52" y2="492.9" stroke="#000" stroke-width="1"/>
<line x1="966.03" y1="484.9" x2="966.03" y2="492.9" stroke="#000" stroke-width="1"/>
<line x1="991.54" y1="484.9" x2="991.54" y2="492.9" stroke="#000" stroke-width="1"/>
<line x1="1017.05" y1="484.9" x2="1017.05" y2="501.4" stroke="#000" stroke-width="1"/>
<line x1="1042.56" y1="484.9" x2="1042.56" y2="492.9" stroke="#000" stroke-width="1"/>
<line x1="1068.07" y1="484.9" x2="1068.07" y2="492.9" stroke="#000" stroke-width="1"/>
<line x1="1093.58" y1="484.9" x2="1093.58" y2="492.9" stroke="#000" stroke-width="1"/>
<line x1="1119.09" y1="484.9" x2="1119.09" y2="492.9" stroke="#000" stroke-width="1"/>
<line x1="1144.6" y1="484.9" x2="1144.6" y2="501.4" stroke="#000" stroke-width="1"/>
<line x1="1170.11" y1="484.9" x2="1170.11" y2="492.9" stroke="#000" stroke-width="1"/>
<line x1="1195.62" y1="484.9" x2="1195.62" y2="492.9" stroke="#000" stroke-width="1"/>
<line x1="1221.13" y1="484.9" x2="1221.13" y2="492.9" stroke="#000" stroke-width="1"/>
<line x1="1246.64" y1="484.9" x2="1246.64" y2="492.9" stroke="#000" stroke-width="1"/>
<line x1="1272.15" y1="484.9" x2="1272.15" y2="501.4" stroke="#000" stroke-width="1"/>
<line x1="1297.66" y1="484.9" x2="1297.66" y2="492.9" stroke="#000" stroke-width="1"/>
<line x1="1323.17" y1="484.9" x2="1323.17" y2="492.9" stroke="#000" stroke-width="1"/>
<line x1="1348.68" y1="484.9" x2="1348.68" y2="492.9" stroke="#000" stroke-width="1"/>
<line x1="1374.19" y1="484.9" x2="1374.19" y2="492.9" stroke="#000" stroke-width="1"/>
<line x1="881.5" y1="69.8" x2="889.5" y2="69.8" stroke="#000" stroke-width="1"/>
<line x1="873" y1="129.1" x2="889.5" y2="129.1" stroke="#000" stroke-width="1"/>
<line x1="881.5" y1="188.4" x2="889.5" y2="188.4" stroke="#000" stroke-width="1"/>
<line x1="873" y1="247.7" x2="889.5" y2="247.7" stroke="#000" stroke-width="1"/>
<line x1="881.5" y1="307" x2="889.5" y2="307" stroke="#000" stroke-width="1"/>
<line x1="873" y1="366.3" x2="889.5" y2="366.3" stroke="#000" stroke-width="1"/>
<line x1="881.5" y1="425.6" x2="889.5" y2="425.6" stroke="#000" stroke-width="1"/>
<line x1="1399.6" y1="69.8" x2="1407.6" y2="69.8" stroke="#000" stroke-width="1"/>
<line x1="1399.6" y1="129.1" x2="1416.1" y2="129.1" stroke="#000" stroke-width="1"/>
<line x1="1399.6" y1="188.4" x2="1407.6" y2="188.4" stroke="#000" stroke-width="1"/>
<line x1="1399.6" y1="247.7" x2="1416.1" y2="247.7" stroke="#000" stroke-width="1"/>
<line x1="1399.6" y1="307" x2="1407.6" y2="307" stroke="#000" stroke-width="1"/>
<line x1="1399.6" y1="366.3" x2="1416.1" y2="366.3" stroke="#000" stroke-width="1"/>
<line x1="1399.6" y1="425.6" x2="1407.6" y2="425.6" stroke="#000" stroke-width="1"/>
<line x1="106.1" y1="629.3" x2="628.5" y2="629.3" stroke="#000" stroke-width="1"/>
<line x1="106.1" y1="1103.5" x2="628.5" y2="1103.5" stroke="#000" stroke-width="1"/>
<line x1="122.6" y1="629" x2="122.6" y2="1120" stroke="#000" stroke-width="1"/>
<line x1="612" y1="629" x2="612" y2="1120" stroke="#000" stroke-width="1"/>
<line x1="147.07" y1="1103.5" x2="147.07" y2="1111.5" stroke="#000" stroke-width="1"/>
<line x1="171.54" y1="1103.5" x2="171.54" y2="1111.5" stroke="#000" stroke-width="1"/>
<line x1="196.01" y1="1103.5" x2="196.01" y2="1111.5" stroke="#000" stroke-width="1"/>
<line x1="220.48" y1="1103.5" x2="220.48" y2="1111.5" stroke="#000" stroke-width="1"/>
<line x1="244.95" y1="1103.5" x2="244.95" y2="1120" stroke="#000" stroke-width="1"/>
<line x1="269.42" y1="1103.5" x2="269.42" y2="1111.5" stroke="#000" stroke-width="1"/>
<line x1="293.89" y1="1103.5" x2="293.89" y2="1111.5" stroke="#000" stroke-width="1"/>
<line x1="318.36" y1="1103.5" x2="318.36" y2="1111.5" stroke="#000" stroke-width="1"/>
<line x1="342.83" y1="1103.5" x2="342.83" y2="1111.5" stroke="#000" stroke-width="1"/>
<line x1="367.3" y1="1103.5" x2="367.3" y2="1120" stroke="#000" stroke-width="1"/>
<line x1="391.77" y1="1103.5" x2="391.77" y2="1111.5" stroke="#000" stroke-width="1"/>
<line x1="416.24" y1="1103.5" x2="416.24" y2="1111.5" stroke="#000" stroke-width="1"/>
<line x1="440.71" y1="1103.5" x2="440.71" y2="1111.5" stroke="#000" stroke-width="1"/>
<line x1="465.18" y1="1103.5" x2="465.18" y2="1111.5" stroke="#000" stroke-width="1"/>
<line x1="489.65" y1="1103.5" x2="489.65" y2="1120" stroke="#000" stroke-width="1"/>
<line x1="514.12" y1="1103.5" x2="514.12" y2="1111.5" stroke="#000" stroke-width="1"/>
<line x1="538.59" y1="1103.5" x2="538.59" y2="1111.5" stroke="#000" stroke-width="1"/>
<line x1="563.06" y1="1103.5" x2="563.06" y2="1111.5" stroke="#000" stroke-width="1"/>
<line x1="587.53" y1="1103.5" x2="587.53" y2="1111.5" stroke="#000" stroke-width="1"/>
<line x1="114.6" y1="676.45" x2="122.6" y2="676.45" stroke="#000" stroke-width="1"/>
<line x1="106.1" y1="723.9" x2="122.6" y2="723.9" stroke="#000" stroke-width="1"/>
<line x1="114.6" y1="771.35" x2="122.6" y2="771.35" stroke="#000" stroke-width="1"/>
<line x1="106.1" y1="818.8" x2="122.6" y2="818.8" stroke="#000" stroke-width="1"/>
<line x1="114.6" y1="866.25" x2="122.6" y2="866.25" stroke="#000" stroke-width="1"/>
<line x1="106.1" y1="913.7" x2="122.6" y2="913.7" stroke="#000" stroke-width="1"/>
<line x1="114.6" y1="961.15" x2="122.6" y2="961.15" stroke="#000" stroke-width="1"/>
<line x1="106.1" y1="1008.6" x2="122.6" y2="1008.6" stroke="#000" stroke-width="1"/>
<line x1="114.6" y1="1056.05" x2="122.6" y2="1056.05" stroke="#000" stroke-width="1"/>
<line x1="612" y1="668.54" x2="620" y2="668.54" stroke="#000" stroke-width="1"/>
<line x1="612" y1="708.08" x2="628.5" y2="708.08" stroke="#000" stroke-width="1"/>
<line x1="612" y1="747.62" x2="620" y2="747.62" stroke="#000" stroke-width="1"/>
<line x1="612" y1="787.17" x2="628.5" y2="787.17" stroke="#000" stroke-width="1"/>
<line x1="612" y1="826.71" x2="620" y2="826.71" stroke="#000" stroke-width="1"/>
<line x1="612" y1="866.25" x2="628.5" y2="866.25" stroke="#000" stroke-width="1"/>
<line x1="612" y1="905.79" x2="620" y2="905.79" stroke="#000" stroke-width="1"/>
<line x1="612" y1="945.33" x2="628.5" y2="945.33" stroke="#000" stroke-width="1"/>
<line x1="612" y1="984.88" x2="620" y2="984.88" stroke="#000" stroke-width="1"/>
<line x1="612" y1="1024.42" x2="628.5" y2="1024.42" stroke="#000" stroke-width="1"/>
<line x1="612" y1="1063.96" x2="620" y2="1063.96" stroke="#000" stroke-width="1"/>
<line x1="883" y1="629.3" x2="1405.3" y2="629.3" stroke="#000" stroke-width="1"/>
<line x1="883" y1="1103.5" x2="1405.3" y2="1103.5" stroke="#000" stroke-width="1"/>
<line x1="899.5" y1="629" x2="899.5" y2="1120" stroke="#000" stroke-width="1"/>
<line x1="1388.8" y1="629" x2="1388.8" y2="1120" stroke="#000" stroke-width="1"/>
<line x1="923.97" y1="1103.5" x2="923.97" y2="1111.5" stroke="#000" stroke-width="1"/>
<line x1="948.43" y1="1103.5" x2="948.43" y2="1111.5" stroke="#000" stroke-width="1"/>
<line x1="972.89" y1="1103.5" x2="972.89" y2="1111.5" stroke="#000" stroke-width="1"/>
<line x1="997.36" y1="1103.5" x2="997.36" y2="1111.5" stroke="#000" stroke-width="1"/>
<line x1="1021.83" y1="1103.5" x2="1021.83" y2="1120" stroke="#000" stroke-width="1"/>
<line x1="1046.29" y1="1103.5" x2="1046.29" y2="1111.5" stroke="#000" stroke-width="1"/>
<line x1="1070.75" y1="1103.5" x2="1070.75" y2="1111.5" stroke="#000" stroke-width="1"/>
<line x1="1095.22" y1="1103.5" x2="1095.22" y2="1111.5" stroke="#000" stroke-width="1"/>
<line x1="1119.68" y1="1103.5" x2="1119.68" y2="1111.5" stroke="#000" stroke-width="1"/>
<line x1="1144.15" y1="1103.5" x2="1144.15" y2="1120" stroke="#000" stroke-width="1"/>
<line x1="1168.62" y1="1103.5" x2="1168.62" y2="1111.5" stroke="#000" stroke-width="1"/>
<line x1="1193.08" y1="1103.5" x2="1193.08" y2="1111.5" stroke="#000" stroke-width="1"/>
<line x1="1217.55" y1="1103.5" x2="1217.55" y2="1111.5" stroke="#000" stroke-width="1"/>
<line x1="1242.01" y1="1103.5" x2="1242.01" y2="1111.5" stroke="#000" stroke-width="1"/>
<line x1="1266.47" y1="1103.5" x2="1266.47" y2="1120" stroke="#000" stroke-width="1"/>
<line x1="1290.94" y1="1103.5" x2="1290.94" y2="1111.5" stroke="#000" stroke-width="1"/>
<line x1="1315.4" y1="1103.5" x2="1315.4" y2="1111.5" stroke="#000" stroke-width="1"/>
<line x1="1339.87" y1="1103.5" x2="1339.87" y2="1111.5" stroke="#000" stroke-width="1"/>
<line x1="1364.34" y1="1103.5" x2="1364.34" y2="1111.5" stroke="#000" stroke-width="1"/>
<line x1="891.5" y1="668.54" x2="899.5" y2="668.54" stroke="#000" stroke-width="1"/>
<line x1="883" y1="708.08" x2="899.5" y2="708.08" stroke="#000" stroke-width="1"/>
<line x1="891.5" y1="747.62" x2="899.5" y2="747.62" stroke="#000" stroke-width="1"/>
<line x1="883" y1="787.17" x2="899.5" y2="787.17" stroke="#000" stroke-width="1"/>
<line x1="891.5" y1="826.71" x2="899.5" y2="826.71" stroke="#000" stroke-width="1"/>
<line x1="883" y1="866.25" x2="899.5" y2="866.25" stroke="#000" stroke-width="1"/>
<line x1="891.5" y1="905.79" x2="899.5" y2="905.79" stroke="#000" stroke-width="1"/>
<line x1="883" y1="945.33" x2="899.5" y2="945.33" stroke="#000" stroke-width="1"/>
<line x1="891.5" y1="984.88" x2="899.5" y2="984.88" stroke="#000" stroke-width="1"/>
<line x1="883" y1="1024.42" x2="899.5" y2="1024.42" stroke="#000" stroke-width="1"/>
<line x1="891.5" y1="1063.96" x2="899.5" y2="1063.96" stroke="#000" stroke-width="1"/>
<line x1="1388.8" y1="668.54" x2="1396.8" y2="668.54" stroke="#000" stroke-width="1"/>
<line x1="1388.8" y1="708.08" x2="1405.3" y2="708.08" stroke="#000" stroke-width="1"/>
<line x1="1388.8" y1="747.62" x2="1396.8" y2="747.62" stroke="#000" stroke-width="1"/>
<line x1="1388.8" y1="787.17" x2="1405.3" y2="787.17" stroke="#000" stroke-width="1"/>
<line x1="1388.8" y1="826.71" x2="1396.8" y2="826.71" stroke="#000" stroke-width="1"/>
<line x1="1388.8" y1="866.25" x2="1405.3" y2="866.25" stroke="#000" stroke-width="1"/>
<line x1="1388.8" y1="905.79" x2="1396.8" y2="905.79" stroke="#000" stroke-width="1"/>
<line x1="1388.8" y1="945.33" x2="1405.3" y2="945.33" stroke="#000" stroke-width="1"/>
<line x1="1388.8" y1="984.88" x2="1396.8" y2="984.88" stroke="#000" stroke-width="1"/>
<line x1="1388.8" y1="1024.42" x2="1405.3" y2="1024.42" stroke="#000" stroke-width="1"/>
<line x1="1388.8" y1="1063.96" x2="1396.8" y2="1063.96" stroke="#000" stroke-width="1"/>
</g>
<g>
<rect x="410.2" y="20.6" width="201.6" height="147.2" fill="#fff" stroke="#222" stroke-width="1.1"/>
<line x1="421.7" y1="41.9" x2="456.1" y2="41.9" stroke="#2b6cab" stroke-width="1.6"/>
<circle cx="438.9" cy="41.9" r="5.2" fill="#fff" stroke="#2b6cab" stroke-width="1.9"/>
<text x="467.7" y="52.7" font-size="29">u<tspan font-size="21.5" dy="5.5" letter-spacing="0.15">sl(LJ),298K</tspan></text>
<line x1="421.7" y1="76.75" x2="456.1" y2="76.75" stroke="#f77d0b" stroke-width="1.6"/>
<rect x="433.8" y="71.65" width="10.2" height="10.2" fill="#fff" stroke="#f77d0b" stroke-width="1.9"/>
<text x="467.7" y="87.55" font-size="29">W<tspan font-size="21.5" dy="5.5" letter-spacing="0.15">sl,298K</tspan></text>
<line x1="421.7" y1="111.6" x2="456.1" y2="111.6" stroke="#3ea33a" stroke-width="1.6"/>
<circle cx="438.9" cy="111.6" r="5.2" fill="#fff" stroke="#3ea33a" stroke-width="1.9"/>
<text x="467.7" y="122.4" font-size="29">u<tspan font-size="21.5" dy="5.5" letter-spacing="0.15">sl(LJ),396K</tspan></text>
<line x1="421.7" y1="146.45" x2="456.1" y2="146.45" stroke="#8c449e" stroke-width="1.6"/>
<rect x="433.8" y="141.35" width="10.2" height="10.2" fill="#fff" stroke="#8c449e" stroke-width="1.9"/>
<text x="467.7" y="157.25" font-size="29">W<tspan font-size="21.5" dy="5.5" letter-spacing="0.15">sl,396K</tspan></text>
<rect x="1187.2" y="20.6" width="201.8" height="147.2" fill="#fff" stroke="#222" stroke-width="1.1"/>
<line x1="1198.7" y1="41.9" x2="1233.1" y2="41.9" stroke="#2b6cab" stroke-width="1.6"/>
<circle cx="1215.9" cy="41.9" r="5.2" fill="#fff" stroke="#2b6cab" stroke-width="1.9"/>
<text x="1244.7" y="52.7" font-size="29">u<tspan font-size="21.5" dy="5.5" letter-spacing="0.15">sl(LJ)</tspan></text>
<line x1="1198.7" y1="76.75" x2="1233.1" y2="76.75" stroke="#f77d0b" stroke-width="1.6"/>
<rect x="1210.8" y="71.65" width="10.2" height="10.2" fill="#fff" stroke="#f77d0b" stroke-width="1.9"/>
<text x="1244.7" y="87.55" font-size="29">W<tspan font-size="21.5" dy="5.5" letter-spacing="0.15">sl</tspan></text>
<line x1="1198.7" y1="111.6" x2="1233.1" y2="111.6" stroke="#3ea33a" stroke-width="1.6"/>
<circle cx="1215.9" cy="111.6" r="5.2" fill="#fff" stroke="#3ea33a" stroke-width="1.9"/>
<text x="1244.7" y="122.4" font-size="29">u<tspan font-size="21.5" dy="5.5" letter-spacing="0.15">sl(LJ),396K</tspan></text>
<line x1="1198.7" y1="146.45" x2="1233.1" y2="146.45" stroke="#8c449e" stroke-width="1.6"/>
<rect x="1210.8" y="141.35" width="10.2" height="10.2" fill="#fff" stroke="#8c449e" stroke-width="1.9"/>
<text x="1244.7" y="157.25" font-size="29">W<tspan font-size="21.5" dy="5.5" letter-spacing="0.15">sl,396K</tspan></text>
<rect x="143" y="844.4" width="202.5" height="147.2" fill="#fff" stroke="#222" stroke-width="1.1"/>
<line x1="154.5" y1="865.7" x2="188.9" y2="865.7" stroke="#2b6cab" stroke-width="1.6"/>
<circle cx="171.7" cy="865.7" r="5.2" fill="#fff" stroke="#2b6cab" stroke-width="1.9"/>
<text x="200.5" y="876.5" font-size="29">u<tspan font-size="21.5" dy="5.5" letter-spacing="0.15">sl(C),298K</tspan></text>
<line x1="154.5" y1="900.55" x2="188.9" y2="900.55" stroke="#f77d0b" stroke-width="1.6"/>
<rect x="166.6" y="895.45" width="10.2" height="10.2" fill="#fff" stroke="#f77d0b" stroke-width="1.9"/>
<text x="200.5" y="911.35" font-size="29">W<tspan font-size="21.5" dy="5.5" letter-spacing="0.15">sl,298K</tspan></text>
<line x1="154.5" y1="935.4" x2="188.9" y2="935.4" stroke="#3ea33a" stroke-width="1.6"/>
<circle cx="171.7" cy="935.4" r="5.2" fill="#fff" stroke="#3ea33a" stroke-width="1.9"/>
<text x="200.5" y="946.2" font-size="29">u<tspan font-size="21.5" dy="5.5" letter-spacing="0.15">sl(C),396K</tspan></text>
<line x1="154.5" y1="970.25" x2="188.9" y2="970.25" stroke="#8c449e" stroke-width="1.6"/>
<rect x="166.6" y="965.15" width="10.2" height="10.2" fill="#fff" stroke="#8c449e" stroke-width="1.9"/>
<text x="200.5" y="981.05" font-size="29">W<tspan font-size="21.5" dy="5.5" letter-spacing="0.15">sl,396K</tspan></text>
<rect x="920" y="792" width="202.7" height="147.2" fill="#fff" stroke="#222" stroke-width="1.1"/>
<line x1="931.5" y1="813.3" x2="965.9" y2="813.3" stroke="#2b6cab" stroke-width="1.6"/>
<circle cx="948.7" cy="813.3" r="5.2" fill="#fff" stroke="#2b6cab" stroke-width="1.9"/>
<text x="977.5" y="824.1" font-size="29">u<tspan font-size="21.5" dy="5.5" letter-spacing="0.15">sl(C)</tspan></text>
<line x1="931.5" y1="848.15" x2="965.9" y2="848.15" stroke="#f77d0b" stroke-width="1.6"/>
<rect x="943.6" y="843.05" width="10.2" height="10.2" fill="#fff" stroke="#f77d0b" stroke-width="1.9"/>
<text x="977.5" y="858.95" font-size="29">W<tspan font-size="21.5" dy="5.5" letter-spacing="0.15">sl</tspan></text>
<line x1="931.5" y1="883" x2="965.9" y2="883" stroke="#3ea33a" stroke-width="1.6"/>
<circle cx="948.7" cy="883" r="5.2" fill="#fff" stroke="#3ea33a" stroke-width="1.9"/>
<text x="977.5" y="893.8" font-size="29">u<tspan font-size="21.5" dy="5.5" letter-spacing="0.15">sl(C),396K</tspan></text>
<line x1="931.5" y1="917.85" x2="965.9" y2="917.85" stroke="#8c449e" stroke-width="1.6"/>
<rect x="943.6" y="912.75" width="10.2" height="10.2" fill="#fff" stroke="#8c449e" stroke-width="1.9"/>
<text x="977.5" y="928.65" font-size="29">W<tspan font-size="21.5" dy="5.5" letter-spacing="0.15">sl,396K</tspan></text>
</g>
<g>
<text x="112.5" y="528.6" font-size="29" text-anchor="middle">0</text>
<text x="240.05" y="528.6" font-size="29" text-anchor="middle">0.5</text>
<text x="367.6" y="528.6" font-size="29" text-anchor="middle">1.0</text>
<text x="495.15" y="528.6" font-size="29" text-anchor="middle">1.5</text>
<text x="622.7" y="528.6" font-size="29" text-anchor="middle">2.0</text>
<text x="89.9" y="20.9" font-size="29" text-anchor="end">0</text>
<text x="89.9" y="139.5" font-size="29" text-anchor="end">−10</text>
<text x="89.9" y="258.1" font-size="29" text-anchor="end">−20</text>
<text x="89.9" y="376.7" font-size="29" text-anchor="end">−30</text>
<text x="89.9" y="495.3" font-size="29" text-anchor="end">−40</text>
<text x="643.8" y="20.9" font-size="29">40</text>
<text x="643.8" y="139.5" font-size="29">30</text>
<text x="643.8" y="258.1" font-size="29">20</text>
<text x="643.8" y="376.7" font-size="29">10</text>
<text x="643.8" y="495.3" font-size="29">0</text>
<text x="367.6" y="564.9" font-size="29" text-anchor="middle">LJ coupling parameter, κ</text>
<text font-size="29" text-anchor="middle" transform="translate(22.8,247.7) rotate(-90)">Hamiltonian derivative (mN/m)</text>
<text font-size="29" text-anchor="middle" transform="translate(701.5,247.7) rotate(90)">work of adhesion, W<tspan font-size="20" dy="6">sl</tspan><tspan dy="-6"> (mN/m)</tspan></text>
<text x="889.5" y="528.6" font-size="29" text-anchor="middle">0</text>
<text x="1017.05" y="528.6" font-size="29" text-anchor="middle">0.5</text>
<text x="1144.6" y="528.6" font-size="29" text-anchor="middle">1.0</text>
<text x="1272.15" y="528.6" font-size="29" text-anchor="middle">1.5</text>
<text x="1399.7" y="528.6" font-size="29" text-anchor="middle">2.0</text>
<text x="866.9" y="20.9" font-size="29" text-anchor="end">0</text>
<text x="866.9" y="139.5" font-size="29" text-anchor="end">−20</text>
<text x="866.9" y="258.1" font-size="29" text-anchor="end">−40</text>
<text x="866.9" y="376.7" font-size="29" text-anchor="end">−60</text>
<text x="866.9" y="495.3" font-size="29" text-anchor="end">−80</text>
<text x="1421" y="20.9" font-size="29">80</text>
<text x="1421" y="139.5" font-size="29">60</text>
<text x="1421" y="258.1" font-size="29">40</text>
<text x="1421" y="376.7" font-size="29">20</text>
<text x="1421" y="495.3" font-size="29">0</text>
<text x="1144.6" y="564.9" font-size="29" text-anchor="middle">LJ coupling parameter, κ</text>
<text font-size="29" text-anchor="middle" transform="translate(799.8,247.7) rotate(-90)">Hamiltonian derivative (mN/m)</text>
<text font-size="29" text-anchor="middle" transform="translate(1478.5,247.7) rotate(90)">work of adhesion, W<tspan font-size="20" dy="6">sl</tspan><tspan dy="-6"> (mN/m)</tspan></text>
<text x="122.6" y="1147.6" font-size="29" text-anchor="middle">0</text>
<text x="244.95" y="1147.6" font-size="29" text-anchor="middle">0.5</text>
<text x="367.3" y="1147.6" font-size="29" text-anchor="middle">1.0</text>
<text x="489.65" y="1147.6" font-size="29" text-anchor="middle">1.5</text>
<text x="612" y="1147.6" font-size="29" text-anchor="middle">2.0</text>
<text x="100" y="639.4" font-size="29" text-anchor="end">0</text>
<text x="100" y="734.3" font-size="29" text-anchor="end">−200</text>
<text x="100" y="829.2" font-size="29" text-anchor="end">−400</text>
<text x="100" y="924.1" font-size="29" text-anchor="end">−600</text>
<text x="100" y="1019" font-size="29" text-anchor="end">−800</text>
<text x="100" y="1113.9" font-size="29" text-anchor="end">−1000</text>
<text x="633.4" y="639.4" font-size="29">600</text>
<text x="633.4" y="718.48" font-size="29">500</text>
<text x="633.4" y="797.57" font-size="29">400</text>
<text x="633.4" y="876.65" font-size="29">300</text>
<text x="633.4" y="955.73" font-size="29">200</text>
<text x="633.4" y="1034.82" font-size="29">100</text>
<text x="633.4" y="1113.9" font-size="29">0</text>
<text x="367.3" y="1183.5" font-size="29" text-anchor="middle">Coulomb coupling parameter, λ</text>
<text font-size="29" text-anchor="middle" transform="translate(22.7,866.25) rotate(-90)">Hamiltonian derivative (mN/m)</text>
<text font-size="29" text-anchor="middle" transform="translate(701.5,866.25) rotate(90)">work of adhesion, W<tspan font-size="20" dy="6">sl</tspan><tspan dy="-6"> (mN/m)</tspan></text>
<text x="899.5" y="1147.6" font-size="29" text-anchor="middle">0</text>
<text x="1021.83" y="1147.6" font-size="29" text-anchor="middle">0.5</text>
<text x="1144.15" y="1147.6" font-size="29" text-anchor="middle">1.0</text>
<text x="1266.47" y="1147.6" font-size="29" text-anchor="middle">1.5</text>
<text x="1388.8" y="1147.6" font-size="29" text-anchor="middle">2.0</text>
<text x="876.9" y="639.4" font-size="29" text-anchor="end">0</text>
<text x="876.9" y="718.48" font-size="29" text-anchor="end">−200</text>
<text x="876.9" y="797.57" font-size="29" text-anchor="end">−400</text>
<text x="876.9" y="876.65" font-size="29" text-anchor="end">−600</text>
<text x="876.9" y="955.73" font-size="29" text-anchor="end">−800</text>
<text x="876.9" y="1034.82" font-size="29" text-anchor="end">−1000</text>
<text x="876.9" y="1113.9" font-size="29" text-anchor="end">−1200</text>
<text x="1410.2" y="639.4" font-size="29">600</text>
<text x="1410.2" y="718.48" font-size="29">500</text>
<text x="1410.2" y="797.57" font-size="29">400</text>
<text x="1410.2" y="876.65" font-size="29">300</text>
<text x="1410.2" y="955.73" font-size="29">200</text>
<text x="1410.2" y="1034.82" font-size="29">100</text>
<text x="1410.2" y="1113.9" font-size="29">0</text>
<text x="1144.15" y="1183.5" font-size="29" text-anchor="middle">Coulomb coupling parameter, λ</text>
<text font-size="29" text-anchor="middle" transform="translate(799.7,866.25) rotate(-90)">Hamiltonian derivative (mN/m)</text>
<text font-size="29" text-anchor="middle" transform="translate(1478.5,866.25) rotate(90)">work of adhesion, W<tspan font-size="20" dy="6">sl</tspan><tspan dy="-6"> (mN/m)</tspan></text>
<text x="360" y="1263.1" font-size="41" text-anchor="middle" font-family="'Liberation Serif', serif" font-weight="bold">(a)</text>
<text x="1137.2" y="1263.1" font-size="41" text-anchor="middle" font-family="'Liberation Serif', serif" font-weight="bold">(b)</text>
</g>
</svg>
</body></html>
